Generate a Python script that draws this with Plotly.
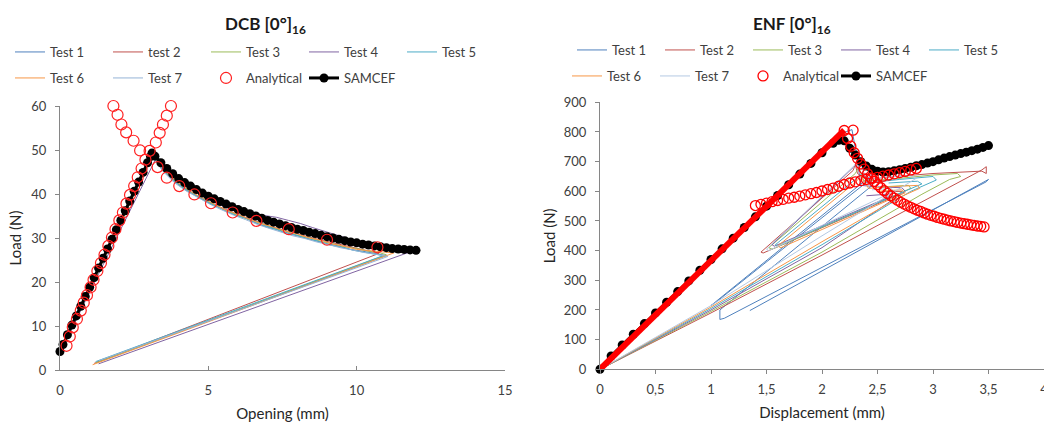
import plotly.graph_objects as go

# ---------------- DCB data ----------------
dcb_test1_x = [0, 3.05, 3.15, 3.4, 3.8, 4.2, 4.6, 5.0, 5.4, 5.8, 6.2, 6.6, 7.0, 7.4, 7.8, 8.2, 8.6, 9.0, 9.4, 9.8, 10.2, 10.6, 11.0, 1.25]
dcb_test1_y = [3.9, 48.4, 48.8, 45.9, 43.1, 41.1, 39.5, 38.0, 36.8, 35.5, 34.7, 33.4, 32.4, 31.8, 30.8, 30.2, 29.4, 28.7, 28.2, 27.4, 27.0, 26.5, 26.0, 1.8]
dcb_test2_x = [0, 3.08, 3.2, 3.5, 3.9, 4.3, 4.7, 5.1, 5.5, 5.9, 6.3, 6.7, 7.1, 7.5, 7.9, 8.3, 8.7, 9.1, 9.5, 9.9, 10.3, 10.75, 1.15]
dcb_test2_y = [4.0, 48.9, 48.5, 45.5, 42.8, 41.0, 39.2, 37.9, 36.7, 35.6, 34.6, 33.6, 32.6, 31.9, 31.1, 30.4, 29.7, 29.1, 28.4, 27.9, 27.3, 26.5, 1.5]
dcb_test3_x = [0, 3.1, 3.2, 3.6, 4.0, 4.4, 4.8, 5.2, 5.6, 6.0, 6.4, 6.8, 7.2, 7.6, 8.0, 8.4, 8.8, 9.2, 9.6, 10.0, 10.4, 10.8, 11.0, 1.2]
dcb_test3_y = [3.6, 48.6, 48.2, 44.6, 42.2, 40.4, 38.9, 37.6, 36.2, 35.1, 34.1, 33.3, 32.2, 31.6, 30.6, 30.1, 29.2, 28.7, 28.0, 27.6, 27.0, 26.6, 26.2, 1.6]
dcb_test4_x = [0, 1.2, 3.2, 3.3, 3.7, 4.1, 4.5, 4.9, 5.3, 5.7, 6.1, 6.5, 6.9, 7.3, 7.7, 8.1, 8.5, 8.9, 9.3, 9.7, 10.1, 10.5, 10.9, 11.3, 11.7, 1.3]
dcb_test4_y = [3.8, 20.5, 47.6, 47.9, 44.9, 42.5, 40.7, 39.1, 37.8, 36.8, 36.2, 35.8, 35.1, 34.7, 34.0, 33.3, 32.4, 31.6, 30.8, 29.9, 28.6, 27.9, 27.4, 27.0, 26.6, 1.4]
dcb_test5_x = [0, 3.05, 3.18, 3.5, 3.9, 4.3, 4.7, 5.1, 5.5, 5.9, 6.3, 6.7, 7.1, 7.5, 7.9, 8.3, 8.7, 9.1, 9.5, 9.9, 10.3, 10.9, 1.2]
dcb_test5_y = [4.1, 48.7, 48.9, 45.3, 42.7, 40.8, 39.3, 37.7, 36.5, 35.2, 34.4, 33.2, 32.4, 31.4, 30.8, 29.9, 29.3, 28.4, 27.9, 27.2, 26.7, 26.0, 1.9]
dcb_test6_x = [0, 3.1, 3.22, 3.6, 4.0, 4.4, 4.8, 5.2, 5.6, 6.0, 6.4, 6.8, 7.2, 7.6, 8.0, 8.4, 8.8, 9.2, 9.6, 10.0, 10.4, 10.8, 11.25, 1.1]
dcb_test6_y = [4.0, 49.0, 48.7, 44.9, 42.5, 40.6, 39.1, 37.7, 36.3, 35.4, 34.2, 33.2, 32.5, 31.5, 30.9, 30.0, 29.5, 28.6, 28.1, 27.4, 27.1, 26.8, 26.6, 1.2]
dcb_test7_x = [0, 3.02, 3.14, 3.45, 3.85, 4.25, 4.65, 5.05, 5.45, 5.85, 6.25, 6.65, 7.05, 7.45, 7.85, 8.25, 8.65, 9.05, 9.45, 9.85, 10.25, 10.65, 11.05, 1.3]
dcb_test7_y = [3.9, 48.2, 48.5, 45.3, 42.6, 40.7, 39.2, 37.7, 36.4, 35.2, 34.2, 33.1, 32.2, 31.4, 30.5, 29.9, 29.1, 28.5, 27.8, 27.3, 26.7, 26.3, 25.8, 2.1]

dcb_analytical_x = [0.22, 0.33, 0.43, 0.57, 0.70, 0.80, 0.91, 1.03, 1.13, 1.26, 1.38, 1.50, 1.63, 1.75, 1.87, 2.00,
                    2.12, 2.24, 2.36, 2.50, 2.62, 2.75, 2.88, 3.02,
                    1.80, 1.94, 2.07, 2.23, 2.48, 2.70,
                    3.23, 3.36, 3.47, 3.60, 3.74,
                    3.29, 3.60, 4.02, 4.53, 5.09, 5.82, 6.62, 7.71, 9.0, 10.7]
dcb_analytical_y = [5.5, 7.6, 9.7, 11.6, 13.5, 15.3, 17.0, 18.8, 20.5, 22.5, 24.3, 26.2, 28.2, 30.1, 32.0, 34.0,
                    35.8, 37.8, 39.8, 41.8, 43.8, 45.8, 47.8, 49.8,
                    60.0, 58.0, 55.8, 54.0, 52.1, 49.9,
                    51.7, 53.9, 55.8, 57.8, 60.0,
                    46.1, 43.7, 41.8, 39.9, 37.9, 35.8, 33.9, 32.0, 29.6, 27.9]

dcb_samcef_x = [0, 0.1, 0.25, 0.4, 0.55, 0.7, 0.85, 1.0, 1.15, 1.3, 1.45, 1.6, 1.75, 1.9, 2.05, 2.2, 2.35, 2.5, 2.65, 2.8, 2.95, 3.05, 3.1,
                3.2, 3.4, 3.6, 3.8, 4.0, 4.2, 4.4, 4.6, 4.8, 5.0, 5.2, 5.4, 5.6, 5.8, 6.0, 6.2, 6.4, 6.6, 6.8, 7.0, 7.2, 7.4,
                7.6, 7.8, 8.0, 8.2, 8.4, 8.6, 8.8, 9.0, 9.2, 9.4, 9.6, 9.8, 10.0, 10.2, 10.4, 10.6, 10.8, 11.0, 11.2, 11.4,
                11.6, 11.8, 12.0]
dcb_samcef_y = [4.2, 5.8, 8.0, 10.2, 12.3, 14.5, 16.7, 18.8, 21.0, 23.2, 25.4, 27.5, 29.7, 31.9, 34.0, 36.2, 38.4, 40.6, 42.7, 44.9, 47.1, 48.5, 49.3,
                48.6, 47.1, 45.8, 44.6, 43.5, 42.6, 41.8, 41.0, 40.2, 39.5, 38.9, 38.3, 37.7, 37.1, 36.5, 36.0, 35.5, 35.0, 34.5, 34.0, 33.6, 33.2,
                32.8, 32.4, 32.0, 31.7, 31.3, 31.0, 30.6, 30.3, 30.0, 29.7, 29.4, 29.1, 28.9, 28.6, 28.4, 28.2, 28.0, 27.8, 27.6, 27.5,
                27.4, 27.3, 27.2]

# ---------------- ENF data ----------------
enf_test1_x = [0, 2.2, 2.27, 2.3, 2.36, 2.45, 1.0, 1.03, 2.4, 2.46, 1.08, 1.08, 1.12, 3.48, 3.5, 1.35]
enf_test1_y = [0, 798, 808, 745, 690, 655, 215, 222, 630, 622, 200, 168, 172, 632, 640, 198]
enf_test2_x = [0, 1.0, 2.0, 3.0, 3.44, 3.48, 3.48, 3.44, 3.0, 2.6, 2.4, 2.32, 2.3, 2.28, 1.45, 1.47, 2.7, 2.72, 2.5]
enf_test2_y = [0, 190, 385, 585, 672, 683, 660, 668, 660, 648, 640, 660, 690, 670, 395, 392, 590, 600, 598]
enf_test3_x = [0, 1.0, 2.0, 2.9, 3.15, 3.25, 3.22, 3.0, 2.6, 2.38, 2.33, 2.3, 1.52, 1.55, 2.8, 2.78, 2.55]
enf_test3_y = [0, 195, 395, 590, 640, 650, 660, 655, 640, 635, 680, 660, 410, 405, 610, 620, 615]
enf_test4_x = [0, 1.0, 2.0, 2.6, 2.75, 2.72, 2.5, 2.35, 2.32, 2.28, 1.55, 1.57, 2.6, 2.58, 2.4]
enf_test4_y = [0, 200, 410, 560, 600, 612, 615, 620, 700, 680, 420, 415, 580, 590, 585]
enf_test5_x = [0, 1.0, 2.0, 2.8, 3.03, 3.0, 2.7, 2.45, 2.36, 2.3, 1.58, 1.6, 2.9, 2.86, 2.6]
enf_test5_y = [0, 205, 420, 600, 638, 650, 640, 630, 660, 640, 420, 416, 625, 634, 628]
enf_test6_x = [0, 1.0, 2.0, 2.7, 2.88, 2.86, 2.6, 2.42, 2.35, 2.3, 1.6, 1.63, 2.75, 2.72, 2.5]
enf_test6_y = [0, 210, 430, 580, 610, 620, 615, 610, 650, 630, 415, 410, 595, 605, 600]
enf_test7_x = [0, 1.0, 2.0, 2.7, 2.85, 2.8, 2.55, 2.4, 2.34, 2.3, 1.5, 1.52, 2.65, 2.62, 2.45]
enf_test7_y = [0, 215, 450, 610, 644, 652, 648, 640, 700, 690, 405, 400, 600, 610, 605]

enf_analytical_linear_x = [0, 2.2]
enf_analytical_linear_y = [0, 806]
enf_analytical_x = [2.20, 2.23, 2.26, 2.29, 2.32, 2.35, 2.38, 2.41, 2.44, 2.47, 2.50, 2.53, 2.56, 2.59, 2.62, 2.65,
                    2.68, 2.71, 2.74, 2.77, 2.80, 2.83, 2.86, 2.89, 2.92, 2.95, 2.98, 3.01, 3.04, 3.07, 3.10, 3.13,
                    3.16, 3.19, 3.22, 3.25, 3.28, 3.31, 3.34, 3.37, 3.40, 3.43, 3.46, 2.28,
                    1.40, 1.45, 1.50, 1.55, 1.60, 1.65, 1.70, 1.75, 1.80, 1.85, 1.90, 1.95, 2.00, 2.05, 2.10, 2.15,
                    2.20, 2.25, 2.30, 2.35, 2.40, 2.45, 2.50, 2.55, 2.60, 2.65, 2.70, 2.75, 2.80, 2.85]
enf_analytical_y = [805, 778, 752, 730, 711, 692, 675, 659, 645, 633, 622, 612, 602, 593, 585, 577,
                    570, 563, 557, 551, 546, 541, 536, 532, 527, 523, 519, 516, 512, 509, 506, 503,
                    500, 498, 495, 493, 491, 489, 487, 485, 483, 482, 480, 806,
                    552, 556, 560, 565, 569, 573, 577, 580, 584, 588, 592, 596, 601, 606, 611, 617,
                    623, 628, 632, 636, 640, 643, 647, 651, 655, 659, 663, 667, 672, 677]

enf_samcef_x = [0, 0.1, 0.2, 0.3, 0.4, 0.5, 0.6, 0.7, 0.8, 0.9, 1.0, 1.1, 1.2, 1.3, 1.4, 1.5, 1.6, 1.7, 1.8, 1.9, 2.0, 2.1, 2.15,
                2.2, 2.25, 2.3, 2.35, 2.4, 2.45, 2.5, 2.55, 2.6, 2.65, 2.7, 2.75, 2.8, 2.85, 2.9, 2.95, 3.0, 3.05, 3.1,
                3.15, 3.2, 3.25, 3.3, 3.35, 3.4, 3.45, 3.5]
enf_samcef_y = [0, 45, 82, 118, 154, 190, 226, 262, 298, 334, 370, 406, 442, 478, 514, 550, 586, 622, 658, 694, 730, 762, 772,
                770, 745, 722, 700, 685, 674, 668, 665, 666, 669, 673, 677, 681, 686, 690, 695, 700, 706, 712,
                717, 722, 727, 732, 737, 742, 748, 754]

enf_x_tickvals = [0, 0.5, 1, 1.5, 2, 2.5, 3, 3.5, 4]
enf_x_ticktext = ["0", "0,5", "1", "1,5", "2", "2,5", "3", "3,5", "4"]

test_names_dcb = ["Test 1", "test 2", "Test 3", "Test 4", "Test 5", "Test 6", "Test 7"]
test_names_enf = ["Test 1", "Test 2", "Test 3", "Test 4", "Test 5", "Test 6", "Test 7"]
colors_dcb = ["#4F81BD", "#C0504D", "#9BBB59", "#8064A2", "#4BACC6", "#F79646", "#95B3D7"]
colors_enf = ["#4F81BD", "#C0504D", "#9BBB59", "#8064A2", "#4BACC6", "#F79646", "#B4C9E3"]

FONT = "Lato, 'Open Sans', sans-serif"
AX = "#868686"
TXT = "#404040"

fig = go.Figure()

dcb_tests = [(dcb_test1_x, dcb_test1_y), (dcb_test2_x, dcb_test2_y), (dcb_test3_x, dcb_test3_y),
             (dcb_test4_x, dcb_test4_y), (dcb_test5_x, dcb_test5_y), (dcb_test6_x, dcb_test6_y),
             (dcb_test7_x, dcb_test7_y)]
enf_tests = [(enf_test1_x, enf_test1_y), (enf_test2_x, enf_test2_y), (enf_test3_x, enf_test3_y),
             (enf_test4_x, enf_test4_y), (enf_test5_x, enf_test5_y), (enf_test6_x, enf_test6_y),
             (enf_test7_x, enf_test7_y)]

for i, (x, y) in enumerate(dcb_tests):
    fig.add_trace(go.Scatter(x=x, y=y, mode="lines", name=test_names_dcb[i],
                             line=dict(color=colors_dcb[i], width=1),
                             xaxis="x", yaxis="y", legend="legend" if i < 5 else "legend2",
                             legendrank=i + 1, cliponaxis=False))
fig.add_trace(go.Scatter(x=dcb_samcef_x, y=dcb_samcef_y, mode="lines+markers", name="SAMCEF",
                         line=dict(color="black", width=3), marker=dict(color="black", size=9),
                         xaxis="x", yaxis="y", legend="legend2", legendrank=9, legendwidth=60,
                         cliponaxis=False))
fig.add_trace(go.Scatter(x=dcb_analytical_x, y=dcb_analytical_y, mode="markers", name="Analytical",
                         marker=dict(symbol="circle-open", color="#FF2020", size=11, line=dict(width=1.2)),
                         xaxis="x", yaxis="y", legend="legend2", legendrank=8, cliponaxis=False))

for i, (x, y) in enumerate(enf_tests):
    fig.add_trace(go.Scatter(x=x, y=y, mode="lines", name=test_names_enf[i],
                             line=dict(color=colors_enf[i], width=1),
                             xaxis="x2", yaxis="y2", legend="legend3" if i < 5 else "legend4",
                             legendrank=i + 1, cliponaxis=False))
fig.add_trace(go.Scatter(x=enf_samcef_x, y=enf_samcef_y, mode="lines+markers", name="SAMCEF",
                         line=dict(color="black", width=3), marker=dict(color="black", size=9),
                         xaxis="x2", yaxis="y2", legend="legend5", legendrank=9, legendwidth=60,
                         cliponaxis=False))
fig.add_trace(go.Scatter(x=enf_analytical_linear_x, y=enf_analytical_linear_y, mode="lines",
                         name="Analytical", showlegend=False, legendgroup="enf_an",
                         line=dict(color="#FF0000", width=6),
                         xaxis="x2", yaxis="y2", legend="legend4", cliponaxis=False))
fig.add_trace(go.Scatter(x=enf_analytical_x, y=enf_analytical_y, mode="markers", name="Analytical",
                         legendgroup="enf_an", legendwidth=60,
                         marker=dict(symbol="circle-open", color="#FF0000", size=10, line=dict(width=1.3)),
                         xaxis="x2", yaxis="y2", legend="legend4", legendrank=8, cliponaxis=False))

axis_common = dict(showline=True, linecolor=AX, linewidth=1, showgrid=False, zeroline=False,
                   automargin=False, tickcolor=AX, ticklen=4,
                   tickfont=dict(family=FONT, size=13, color=TXT),
                   title_font=dict(family=FONT, size=15, color="#262626"))

fig.update_layout(
    width=1044, height=426, margin=dict(l=0, r=0, t=0, b=0, autoexpand=False),
    paper_bgcolor="white", plot_bgcolor="white",
    font=dict(family=FONT, color=TXT),
    xaxis=dict(domain=[60 / 1044, 505 / 1044], range=[0, 15], dtick=5, ticks="inside",
               ticklabelstandoff=8, title=dict(text="Opening (mm)", standoff=11), anchor="y", **axis_common),
    yaxis=dict(domain=[(426 - 370) / 426, (426 - 106) / 426], range=[0, 60], dtick=10, ticks="outside",
               ticklabelstandoff=6, title=dict(text="Load (N)", standoff=6), anchor="x", **axis_common),
    xaxis2=dict(domain=[600 / 1044, 1.0], range=[0, 4], tickvals=enf_x_tickvals, ticktext=enf_x_ticktext,
                ticks="outside", ticklabelstandoff=4, ticklabeloverflow="allow",
                title=dict(text="Displacement (mm)", standoff=11),
                anchor="y2", **axis_common),
    yaxis2=dict(domain=[(426 - 369.3) / 426, (426 - 102.3) / 426], range=[0, 900], dtick=100,
                ticks="outside", ticklabelstandoff=6, title=dict(text="Load (N)", standoff=4),
                anchor="x2", **axis_common),
)

leg_common = dict(orientation="h", xanchor="left", yanchor="middle", bgcolor="rgba(0,0,0,0)",
                  font=dict(family=FONT, size=13, color=TXT), entrywidthmode="pixels",
                  itemwidth=30, tracegroupgap=0, traceorder="normal")
fig.update_layout(
    legend=dict(x=10 / 1044, y=1 - 52 / 426, entrywidth=53, **leg_common),
    legend2=dict(x=10 / 1044, y=1 - 78 / 426, entrywidth=53, **leg_common),
    legend3=dict(x=572 / 1044, y=1 - 50 / 426, entrywidth=43, **leg_common),
    legend4=dict(x=567 / 1044, y=1 - 76 / 426, entrywidth=43, **leg_common),
    legend5=dict(x=836 / 1044, y=1 - 76 / 426, entrywidth=60, **leg_common),
)

fig.add_annotation(x=265 / 1044, y=1 - 25 / 426, xref="paper", yref="paper", showarrow=False,
                   text="<b>DCB [0°]<sub>16</sub></b>", font=dict(family=FONT, size=17, color="#1a1a1a"),
                   xanchor="center", yanchor="middle")
fig.add_annotation(x=792 / 1044, y=1 - 25 / 426, xref="paper", yref="paper", showarrow=False,
                   text="<b>ENF [0°]<sub>16</sub></b>", font=dict(family=FONT, size=17, color="#1a1a1a"),
                   xanchor="center", yanchor="middle")

fig.write_html("out.html", config={"displayModeBar": False},
               post_script="document.body.style.margin='0px';")
